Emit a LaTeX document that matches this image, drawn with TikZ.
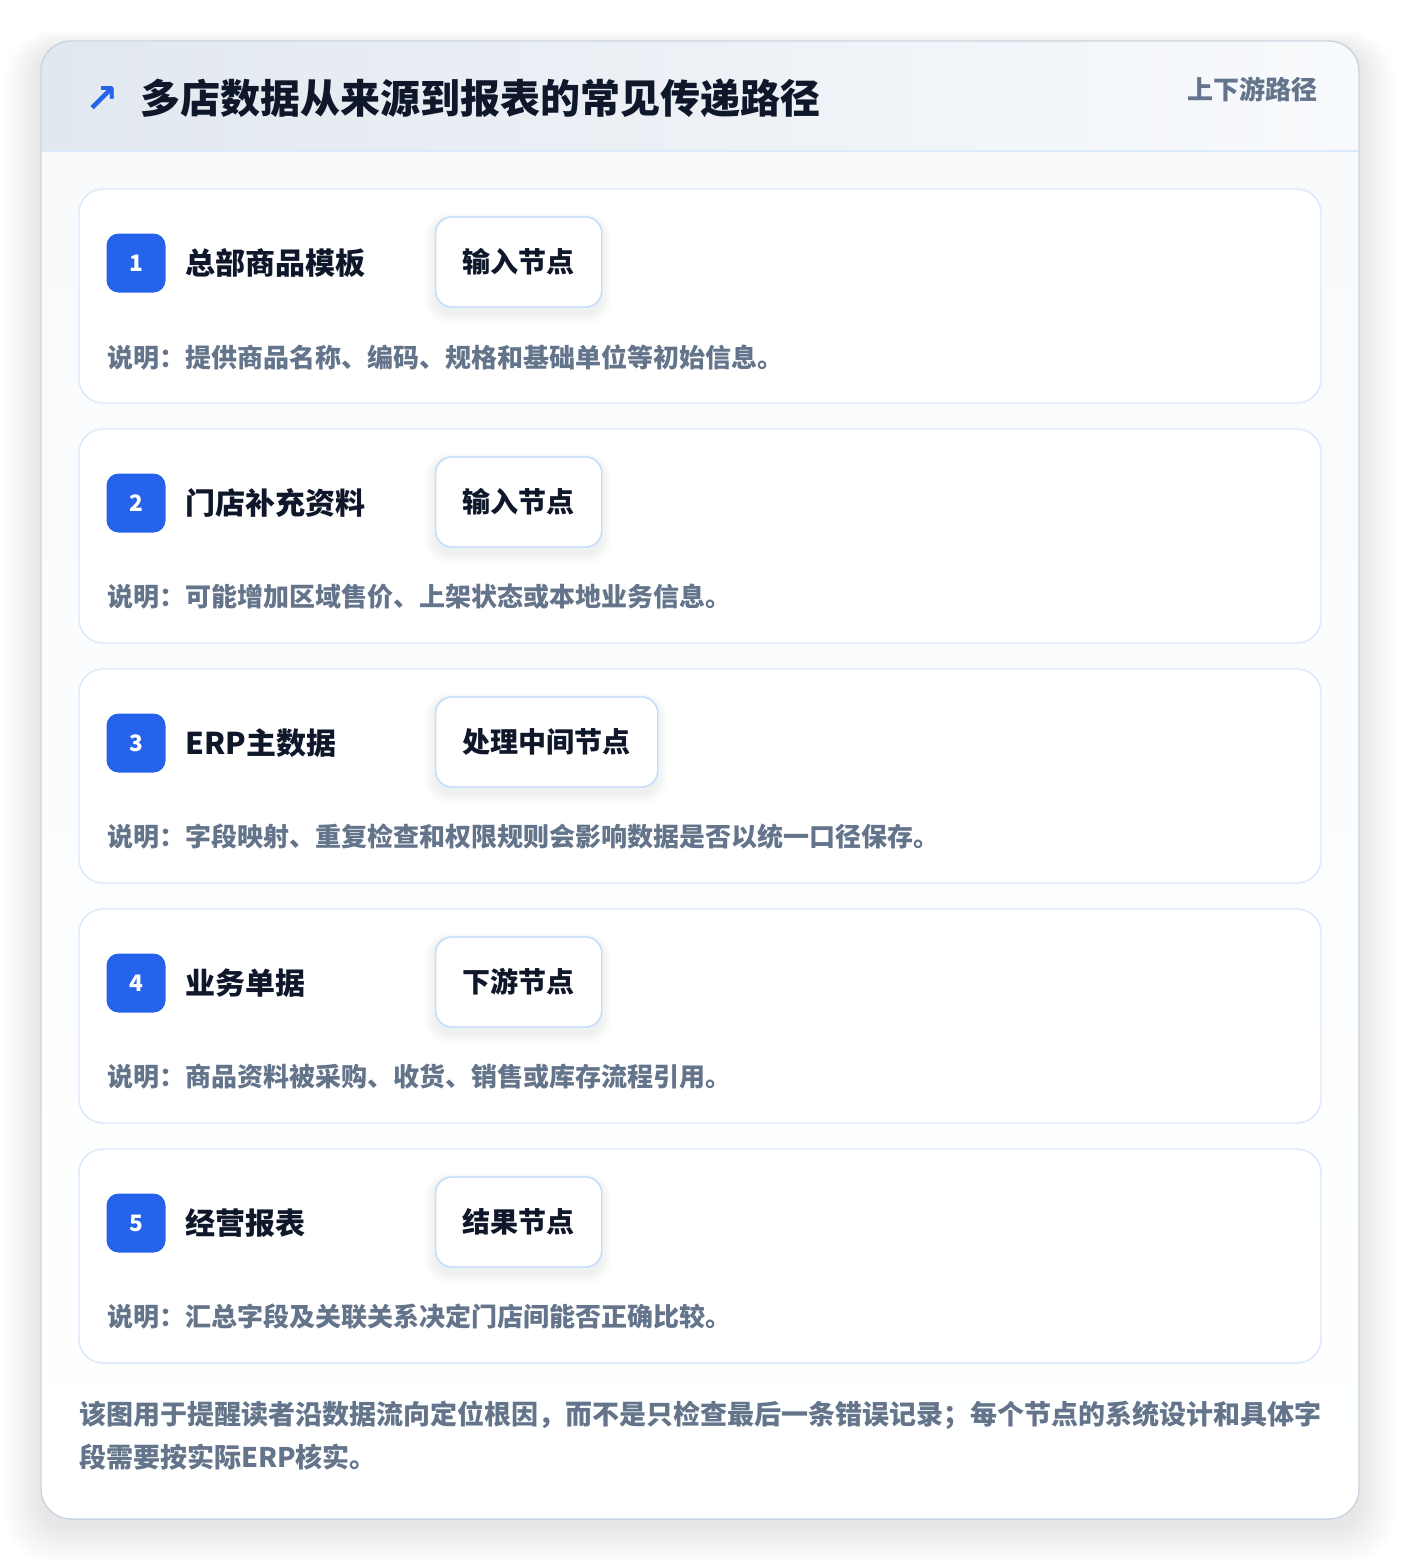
\documentclass[tikz,border=0pt]{standalone}
\usepackage{fontspec}
\setmainfont{Noto Sans CJK SC}
\newfontfamily\symf{DejaVu Sans}
\definecolor{ink}{HTML}{0F172A}
\definecolor{muted}{HTML}{64748B}
\definecolor{accent}{HTML}{2563EB}
\definecolor{outerline}{HTML}{CBD5E1}
\definecolor{cardline}{HTML}{DBEAFE}
\definecolor{tagline}{HTML}{BFDBFE}
\definecolor{hdrL}{HTML}{E2E8F0}
\definecolor{hdrR}{HTML}{F8FAFC}
\definecolor{bodyT}{HTML}{F8FAFC}
\definecolor{shadowc}{HTML}{64748B}
\tikzset{
  cardbox/.style={draw=cardline, line width=1.1pt, fill=white, rounded corners=18pt,
    minimum width=931.5pt, minimum height=160.5pt, inner sep=0pt},
  badgebox/.style={fill=accent, text=white, rounded corners=9pt, minimum size=44.25pt,
    inner sep=0pt, font=\fontsize{17pt}{18pt}\selectfont\bfseries},
  titletext/.style={anchor=west, inner sep=0pt, text=ink, font=\fontsize{22.5pt}{26pt}\selectfont\bfseries},
  tagbox/.style={anchor=west, draw=tagline, line width=1.1pt, fill=white, rounded corners=12pt,
    minimum height=67.5pt, inner xsep=20.25pt, inner ysep=0pt, text=ink,
    font=\fontsize{21pt}{24pt}\selectfont\bfseries},
  desctext/.style={anchor=west, inner sep=0pt, text=muted, font=\fontsize{19.5pt}{22pt}\selectfont\bfseries},
  foottext/.style={anchor=west, inner sep=0pt, text=muted, font=\fontsize{20.25pt}{24pt}\selectfont\bfseries},
}
\newcommand\stepcard[6]{%
  % #1 index, #2 top, #3 title, #4 tag, #5 desc, #6 tag width px
  \node[cardbox] (card#1) at (700,#2+107) {};
  \node[badgebox] (badge#1) at (136,#2+74) {#1};
  \node[titletext] (title#1) at (185,#2+74) {#3};
  \foreach \k in {1,...,5}{
    \fill[shadowc, opacity=0.018, rounded corners=12pt+\k pt]
      (435-\k*2,#2+28+4-\k*1.5) rectangle (435+#6+\k*2,#2+118+6+\k*2);
  }
  \node[tagbox, minimum width=#6*0.75pt] (tag#1) at (435,#2+73) {#4};
  \node[desctext] (desc#1) at (107,#2+168) {#5};
}
\begin{document}
\begin{tikzpicture}[x=0.75pt,y=-0.75pt]
\useasboundingbox (0,0) rectangle (1400,1560);
\fill[white] (0,0) rectangle (1400,1560);
% outer shadow
\foreach \i in {1,...,12}{
  \fill[shadowc, opacity=0.012, rounded corners=22.5pt+\i*1.2pt]
    (41-\i*3,41-\i*1.5+8) rectangle (1359+\i*3,1519+\i*3+8);
}
% outer card
\begin{scope}
  \clip[rounded corners=22.5pt] (41,41) rectangle (1359,1519);
  \shade[top color=bodyT, bottom color=white] (41,151) rectangle (1359,1519);
  \shade[left color=hdrL, right color=hdrR] (41,41) rectangle (1359,151);
\end{scope}
\draw[cardline, line width=1.1pt] (41,151) -- (1359,151);
\node[draw=outerline, line width=1.1pt, rounded corners=22.5pt, minimum width=988.5pt,
  minimum height=1108.5pt, inner sep=0pt] (outer) at (700,780) {};
% header
\node[anchor=center, inner sep=0pt, text=accent, font=\symf\bfseries\fontsize{30pt}{32pt}\selectfont] (icon) at (102,99) {↗};
\node[anchor=west, inner sep=0pt, text=ink, font=\fontsize{30pt}{34pt}\selectfont\bfseries] (head) at (140,98) {多店数据从来源到报表的常见传递路径};
\node[anchor=east, inner sep=0pt, text=muted, font=\fontsize{19.5pt}{22pt}\selectfont\bfseries] (chip) at (1318,89) {上下游路径};
% cards
\stepcard{1}{189}{总部商品模板}{输入节点}{说明：提供商品名称、编码、规格和基础单位等初始信息。}{166}
\stepcard{2}{429}{门店补充资料}{输入节点}{说明：可能增加区域售价、上架状态或本地业务信息。}{166}
\stepcard{3}{669}{ERP主数据}{处理中间节点}{说明：字段映射、重复检查和权限规则会影响数据是否以统一口径保存。}{222}
\stepcard{4}{909}{业务单据}{下游节点}{说明：商品资料被采购、收货、销售或库存流程引用。}{166}
\stepcard{5}{1149}{经营报表}{结果节点}{说明：汇总字段及关联关系决定门店间能否正确比较。}{166}
% footer
\node[foottext] (foot1) at (79,1415) {该图用于提醒读者沿数据流向定位根因，而不是只检查最后一条错误记录；每个节点的系统设计和具体字};
\node[foottext] (foot2) at (79,1457) {段需要按实际ERP核实。};
\end{tikzpicture}
\end{document}
